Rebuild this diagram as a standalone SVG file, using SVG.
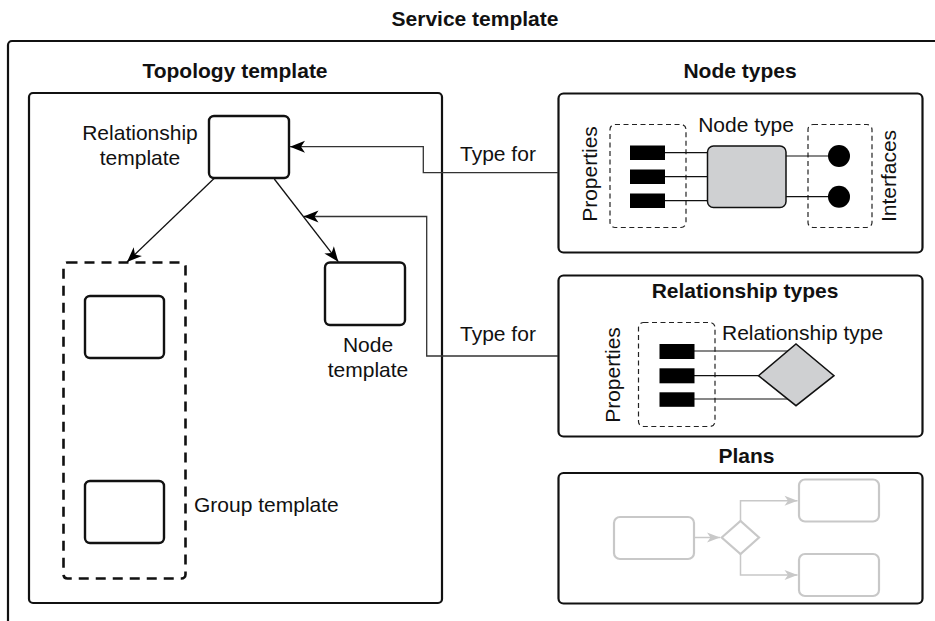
<svg xmlns="http://www.w3.org/2000/svg" width="935" height="621" viewBox="0 0 935 621">
<style>
text{font-family:"Liberation Sans",Arial,Helvetica,sans-serif;font-size:21px;fill:#111}
.b{font-weight:bold}
.m{text-anchor:middle}
.box{fill:#fff;stroke:#111;stroke-width:2.2}
.nb{fill:#fff;stroke:#111;stroke-width:2.4}
.dash{fill:none;stroke:#222;stroke-width:1.2;stroke-dasharray:5 3.5}
.gdash{fill:none;stroke:#111;stroke-width:2.6;stroke-dasharray:10 7}
.prop{fill:#000}
.thin{fill:none;stroke:#111;stroke-width:1.2}
.gray{fill:#cfd0d2;stroke:#111;stroke-width:1.5}
.pl{fill:none;stroke:#c8c8c8;stroke-width:2.2}
.pll{fill:none;stroke:#c8c8c8;stroke-width:1.5}
.con{fill:none;stroke:#111;stroke-width:1.3}
.tf{fill:none;stroke:#333;stroke-width:1.3}
</style>
<defs>
<marker id="arr" viewBox="-16 -7 17 14" refX="0" refY="0" markerWidth="17" markerHeight="14" markerUnits="userSpaceOnUse" orient="auto">
<path d="M0,0 L-15,-6 L-11,0 L-15,6 Z" fill="#000"/>
</marker>
<marker id="garr" viewBox="-15 -6 16 12" refX="0" refY="0" markerWidth="16" markerHeight="12" markerUnits="userSpaceOnUse" orient="auto">
<path d="M0,0 L-13,-5 L-9.5,0 L-13,5 Z" fill="#c8c8c8"/>
</marker>
</defs>

<g id="service-template">
<rect x="8" y="41" width="1000" height="700" rx="4" fill="none" stroke="#111" stroke-width="2.2"/>
<text class="b m" x="475" y="26">Service template</text>
</g>

<g id="topology-template">
<text class="b m" x="235" y="78">Topology template</text>
<rect class="box" x="29" y="93" width="413" height="510" rx="4"/>
</g>

<g id="relationship-template">
<rect class="nb" x="209" y="116" width="80" height="62" rx="5"/>
<text class="m" x="140" y="140">Relationship</text>
<text class="m" x="140" y="165">template</text>
</g>

<g id="group-template">
<rect class="gdash" x="63.5" y="262.5" width="122" height="316" rx="4"/>
<rect class="nb" x="85" y="296" width="79" height="62" rx="5"/>
<rect class="nb" x="85" y="481" width="79" height="62" rx="5"/>
<text x="194" y="512">Group template</text>
</g>

<g id="node-template">
<rect class="nb" x="325" y="262.5" width="80" height="62.5" rx="5"/>
<text class="m" x="368" y="352">Node</text>
<text class="m" x="368" y="377">template</text>
</g>

<g id="node-types">
<text class="b m" x="740" y="78">Node types</text>
<rect class="box" x="558.5" y="93.5" width="364" height="159" rx="5"/>
<rect class="dash" x="610" y="124.5" width="76" height="103" rx="5"/>
<rect class="dash" x="808" y="124.5" width="64" height="103" rx="5"/>
<text class="m" transform="translate(597,174) rotate(-90)">Properties</text>
<text class="m" transform="translate(896,176) rotate(-90)">Interfaces</text>
<text class="m" x="746" y="132">Node type</text>
<path class="thin" d="M665,152.7H708M665,176.7H708M665,200.7H708M786,156H839M786,196.7H839"/>
<rect class="prop" x="630" y="145.5" width="35" height="14.5"/>
<rect class="prop" x="630" y="169.5" width="35" height="14.5"/>
<rect class="prop" x="630" y="193.5" width="35" height="14.5"/>
<rect class="gray" x="707.5" y="146" width="78.5" height="61.5" rx="6"/>
<circle cx="839" cy="156" r="11" fill="#000"/>
<circle cx="839" cy="196.7" r="11" fill="#000"/>
</g>

<g id="relationship-types">
<rect class="box" x="558.5" y="275.5" width="364" height="161" rx="5"/>
<text class="b m" x="745" y="298">Relationship types</text>
<rect class="dash" x="638.5" y="322.5" width="76.5" height="104" rx="5"/>
<text class="m" transform="translate(620,375) rotate(-90)">Properties</text>
<text x="722" y="340">Relationship type</text>
<path class="thin" d="M694,351H788M694,375.7H759M694,399H788"/>
<rect class="prop" x="659.5" y="344" width="35" height="15"/>
<rect class="prop" x="659.5" y="368.3" width="35" height="15"/>
<rect class="prop" x="659.5" y="392.3" width="35" height="14.5"/>
<path class="gray" d="M758.5,375.7L796,344L834,375.7L796,405.7Z" stroke-width="1.3"/>
</g>

<g id="plans">
<text class="b m" x="746.5" y="463">Plans</text>
<rect class="box" x="558.5" y="473" width="364" height="130.5" rx="5"/>
<rect class="pl" x="614" y="517" width="80" height="42" rx="6"/>
<path class="pl" d="M721.7,537.5L740.5,521L759,537.5L740.5,554Z" stroke-width="2"/>
<rect class="pl" x="799" y="479.5" width="80" height="42" rx="6"/>
<rect class="pl" x="799" y="554" width="80" height="42" rx="6"/>
<path class="pll" d="M694,537.5H720" marker-end="url(#garr)"/>
<path class="pll" d="M740.5,521V500.7H797.5" marker-end="url(#garr)"/>
<path class="pll" d="M740.5,554V575H797.5" marker-end="url(#garr)"/>
</g>

<g id="connectors">
<path class="con" d="M214.3,178.3L127,262" marker-end="url(#arr)"/>
<path class="con" d="M274.3,179L338.3,261.7" marker-end="url(#arr)"/>
<path class="tf" d="M558,172.7H423.3V146.7H290" marker-end="url(#arr)"/>
<path class="tf" d="M558,356H426.7V216.5H303.5" marker-end="url(#arr)"/>
<text x="460" y="161">Type for</text>
<text x="460" y="341">Type for</text>
</g>
</svg>
